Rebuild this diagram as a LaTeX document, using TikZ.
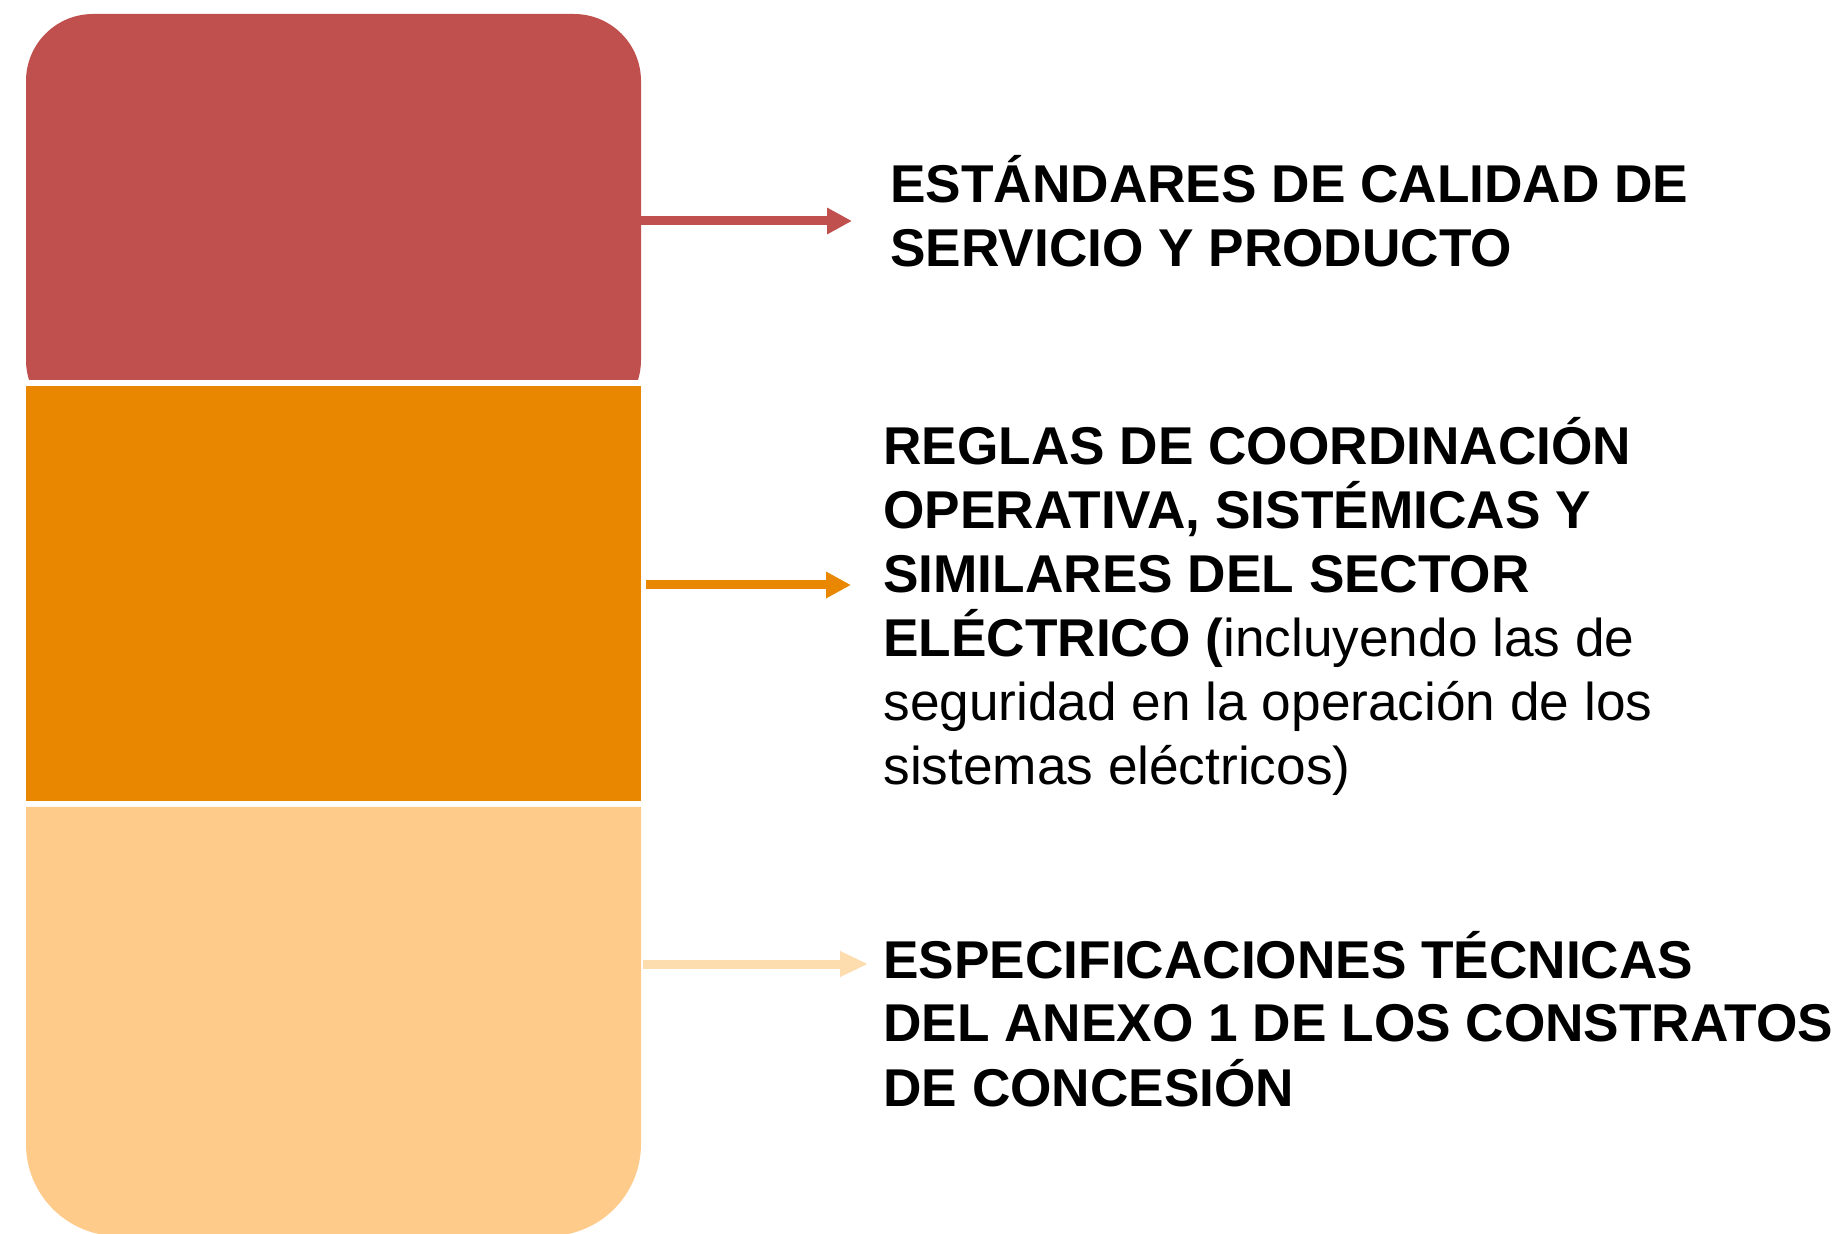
\documentclass[tikz,border=0pt]{standalone}
\usepackage{fontspec}
\setmainfont{Liberation Sans}
\usetikzlibrary{arrows.meta}
\definecolor{cred}{HTML}{C0504D}
\definecolor{corange}{HTML}{E98800}
\definecolor{cpeach}{HTML}{FECB8B}
\definecolor{cpeacharrow}{HTML}{FDDCAE}
\begin{document}
\begin{tikzpicture}[x=0.5pt,y=-0.5pt,
  txt/.style={anchor=base west, inner sep=0pt, font=\fontsize{26.6pt}{32pt}\selectfont},
  arr/.style={line width=4.5pt, -{Triangle[length=12.5pt,width=12.5pt]}}]
\useasboundingbox (0,0) rectangle (1837,1234);
% stacked blocks
\begin{scope}
  \clip (0,0) rectangle (1837,380);
  \fill[cred, rounded corners=33.5pt] (26,14) rectangle (641,427);
\end{scope}
\fill[corange] (26,386) rectangle (641,801);
\fill[cpeach] (26,807) -- (641,807) [rounded corners=46pt] -- (641,1236) -- (26,1236) [sharp corners] -- (26,807) -- cycle;
% texts
\node[txt] (t1) at (890,203) {\vtop{\hbox{\bfseries ESTÁNDARES DE CALIDAD DE}\hbox{\bfseries SERVICIO Y PRODUCTO}}};
\node[txt] (t2) at (883,465) {\vtop{\hbox{\bfseries REGLAS DE COORDINACIÓN}\hbox{\bfseries OPERATIVA, SISTÉMICAS Y}\hbox{\bfseries SIMILARES DEL SECTOR}\hbox{\textbf{ELÉCTRICO (}incluyendo las de}\hbox{seguridad en la operación de los}\hbox{sistemas eléctricos)}}};
\node[txt] (t3) at (883,978) {\vtop{\hbox{\bfseries ESPECIFICACIONES TÉCNICAS}\hbox{\bfseries DEL ANEXO 1 DE LOS CONSTRATOS}\hbox{\bfseries DE CONCESIÓN}}};
% arrows
\coordinate (a1s) at (641,221); \coordinate (a1e) at (852,221);
\coordinate (a2s) at (646,585); \coordinate (a2e) at (851,585);
\coordinate (a3s) at (643,964); \coordinate (a3e) at (868,964);
\draw[arr, cred] (a1s) -- (a1e);
\draw[arr, corange] (a2s) -- (a2e);
\draw[arr, cpeacharrow, -{Triangle[length=14pt,width=12pt]}] (a3s) -- (a3e);
\end{tikzpicture}
\end{document}
